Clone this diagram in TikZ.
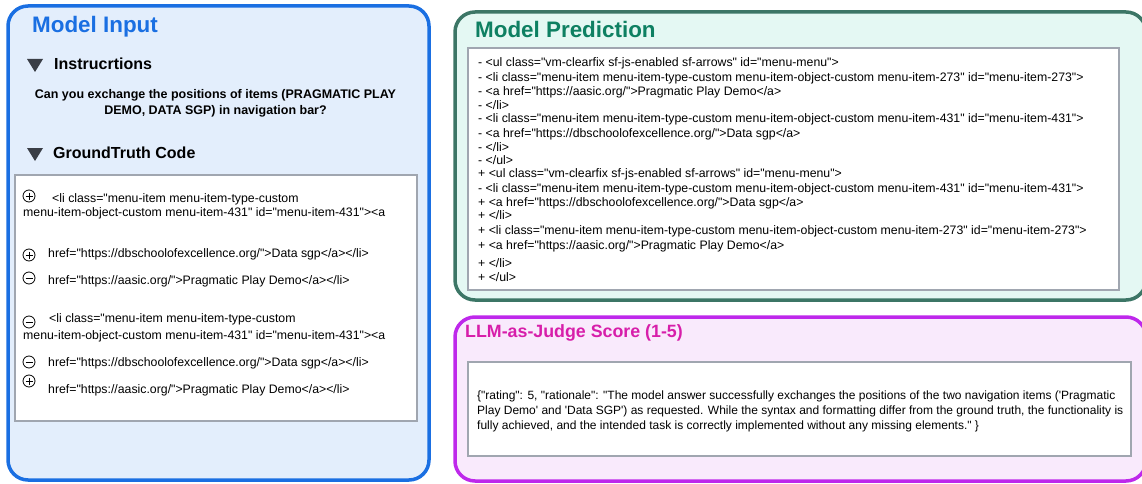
\documentclass[tikz,border=0pt]{standalone}
\usepackage{fontspec}
\setmainfont{Liberation Sans}[Ligatures=TeXOff]
\usetikzlibrary{positioning}

\definecolor{inputblue}{RGB}{26,111,226}
\definecolor{inputfill}{RGB}{227,238,252}
\definecolor{predborder}{RGB}{60,118,102}
\definecolor{predtitle}{RGB}{14,128,98}
\definecolor{predfill}{RGB}{228,248,243}
\definecolor{judgeborder}{RGB}{190,40,235}
\definecolor{judgetitle}{RGB}{215,30,170}
\definecolor{judgefill}{RGB}{249,234,252}
\definecolor{codeframe}{RGB}{160,166,176}
\definecolor{markgray}{RGB}{58,62,70}

\begin{document}
\begin{tikzpicture}[
  x=1pt, y=-1pt,
  every node/.style={inner sep=0pt, anchor=base west},
  panel/.style={line width=3.5pt, rounded corners=20pt},
  codebox/.style={draw=codeframe, fill=white, line width=1.1pt},
  title/.style={font=\fontsize{22.4}{26}\selectfont\bfseries},
  subtitle/.style={font=\fontsize{16}{19}\selectfont\bfseries},
  code/.style={font=\fontsize{12.3}{14}\selectfont},
  judge/.style={font=\fontsize{12}{14}\selectfont},
  diffmark/.style={draw, circle, line width=0.8pt, minimum size=12pt, anchor=center},
  diffminus/.style={diffmark, path picture={
    \draw[line width=1pt] ([xshift=2.5pt]path picture bounding box.west)
      -- ([xshift=-2.5pt]path picture bounding box.east);}},
  diffplus/.style={diffmark, path picture={
    \draw[line width=0.8pt] ([xshift=2.5pt]path picture bounding box.west)
      -- ([xshift=-2.5pt]path picture bounding box.east)
      ([yshift=-2.5pt]path picture bounding box.north)
      -- ([yshift=2.5pt]path picture bounding box.south);}}
]
  \useasboundingbox (0,0) rectangle (1142,484);
  \clip (0,0) rectangle (1142,484);

  % the three panels
  \draw[panel, draw=inputblue, fill=inputfill] (8,6) rectangle (429,480);
  \draw[panel, draw=predborder, fill=predfill] (455,12) rectangle (1146,300);
  \draw[panel, draw=judgeborder, fill=judgefill] (455,317) rectangle (1146,481);

  % model input
  \node[title, text=inputblue] (intitle) at (32,33) {Model Input};
  \fill[markgray] (27,59) -- (43,59) -- (35,72) -- cycle;
  \node[subtitle] (instr) at (54,70) {Instrucrtions};
  \node[anchor=base, font=\fontsize{12.5}{15}\selectfont\bfseries] (ask1) at (215.5,99)
    {Can you exchange the positions of items (PRAGMATIC PLAY};
  \node[anchor=base, font=\fontsize{12.5}{15}\selectfont\bfseries] (ask2) at (215.5,114)
    {DEMO, DATA SGP) in navigation bar?};
  \fill[markgray] (27,148) -- (43,148) -- (35,161) -- cycle;
  \node[subtitle] (gttitle) at (53,158) {GroundTruth Code};

  \draw[codebox] (15,175) rectangle (417,421);
  \node[diffplus] (m1) at (29,196) {};
  \node[code] (g1) at (52,202) {<li class="menu-item menu-item-type-custom};
  \node[code] (g2) at (23,216) {menu-item-object-custom menu-item-431" id="menu-item-431"><a};
  \node[diffplus] (m2) at (29,255) {};
  \node[code] (g3) at (48,257) {href="https://dbschoolofexcellence.org/">Data sgp</a></li>};
  \node[diffminus] (m3) at (29,278) {};
  \node[code] (g4) at (48,284) {href="https://aasic.org/">Pragmatic Play Demo</a></li>};
  \node[diffminus] (m4) at (29,322) {};
  \node[code] (g5) at (49,322) {<li class="menu-item menu-item-type-custom};
  \node[code] (g6) at (23,339) {menu-item-object-custom menu-item-431" id="menu-item-431"><a};
  \node[diffminus] (m5) at (29,362) {};
  \node[code] (g7) at (48,366) {href="https://dbschoolofexcellence.org/">Data sgp</a></li>};
  \node[diffplus] (m6) at (29,381) {};
  \node[code] (g8) at (48,393) {href="https://aasic.org/">Pragmatic Play Demo</a></li>};

  % model prediction
  \node[title, text=predtitle] (predtitle) at (475,38) {Model Prediction};
  \draw[codebox] (468,48) rectangle (1119,290);
  \foreach \y/\txt [count=\i] in {
      67/{- <ul class="vm-clearfix sf-js-enabled sf-arrows" id="menu-menu">},
      82/{- <li class="menu-item menu-item-type-custom menu-item-object-custom menu-item-273" id="menu-item-273">},
      96/{- <a href="https://aasic.org/">Pragmatic Play Demo</a>},
      110/{- </li>},
      123/{- <li class="menu-item menu-item-type-custom menu-item-object-custom menu-item-431" id="menu-item-431">},
      137/{- <a href="https://dbschoolofexcellence.org/">Data sgp</a>},
      151/{- </li>},
      164/{- </ul>},
      177/{+ <ul class="vm-clearfix sf-js-enabled sf-arrows" id="menu-menu">},
      192/{- <li class="menu-item menu-item-type-custom menu-item-object-custom menu-item-431" id="menu-item-431">},
      206/{+ <a href="https://dbschoolofexcellence.org/">Data sgp</a>},
      219/{+ </li>},
      234/{+ <li class="menu-item menu-item-type-custom menu-item-object-custom menu-item-273" id="menu-item-273">},
      249/{+ <a href="https://aasic.org/">Pragmatic Play Demo</a>},
      267/{+ </li>},
      281/{+ </ul>}} {
    \node[code] (p\i) at (478,\y) {\txt};
  }

  % judge score
  \node[font=\fontsize{17.8}{21}\selectfont\bfseries, text=judgetitle] (judgetitle) at (465,337)
    {LLM-as-Judge Score (1-5)};
  \draw[codebox] (468,362) rectangle (1131,456);
  \node[judge] (j1) at (477,399) {\{"rating": 5, "rationale": "The model answer successfully exchanges the positions of the two navigation items ('Pragmatic};
  \node[judge] (j2) at (477,414) {Play Demo' and 'Data SGP') as requested. While the syntax and formatting differ from the ground truth, the functionality is};
  \node[judge] (j3) at (477,429) {fully achieved, and the intended task is correctly implemented without any missing elements." \}};
\end{tikzpicture}
\end{document}
